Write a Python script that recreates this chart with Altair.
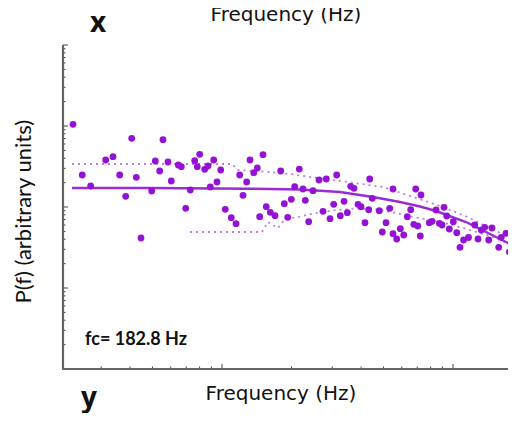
import altair as alt
import pandas as pd

# measured spectrum (Hz, arbitrary units)
freq = [2.265, 2.484, 2.701, 3.137, 3.375, 3.607, 3.830, 4.066, 4.256, 4.460,
        4.963, 5.144, 5.374, 5.554, 5.837, 6.032, 6.470, 6.666, 6.966, 7.293,
        7.619, 8.008, 7.818, 8.417, 8.700, 8.899, 9.206, 9.515, 9.872, 10.33,
        10.97, 11.50, 11.93, 12.33, 12.79, 13.22, 13.72, 14.22, 14.56, 15.05,
        15.55, 16.19, 16.96, 17.95, 18.61, 19.25, 19.95, 20.64, 21.61, 22.42,
        22.94, 23.73, 24.77, 26.30, 27.37, 28.28, 29.35, 30.45, 31.37, 32.52,
        33.75, 34.88, 36.07, 37.28, 38.80, 39.98, 41.59, 43.16, 43.59, 44.73,
        47.97, 49.42, 51.29, 53.21, 54.99, 54.99, 57.05, 59.14, 61.18, 63.42,
        65.60, 67.60, 68.95, 70.34, 72.18, 72.70, 78.97, 81.13, 84.43, 87.26,
        89.64, 91.42, 93.91, 96.38, 100.3, 103.8, 107.2, 111.1, 116.7, 124.2,
        128.3, 132.6, 137.2, 142.7, 147.5, 157.7, 161.8, 169.6, 175.3, 185.5]
power = [1.050, 0.2484, 0.1817, 0.3803, 0.4178, 0.2484, 0.1355, 0.7047, 0.2326, 0.04143,
         0.1576, 0.3697, 0.2783, 0.6774, 0.3594, 0.2094, 0.3300, 0.3145, 0.09638, 0.1622,
         0.3729, 0.4472, 0.3145, 0.2920, 0.3208, 0.1765, 0.3803, 0.2035, 0.2862, 0.09367,
         0.07379, 0.06220, 0.2484, 0.1395, 0.2035, 0.3803, 0.2652, 0.3030, 0.07591, 0.4422,
         0.1009, 0.08602, 0.07810, 0.2783, 0.1098, 0.07463, 0.1245, 0.1780, 0.2944, 0.1668,
         0.1210, 0.06584, 0.1589, 0.2154, 0.08849, 0.2216, 0.07173, 0.1080, 0.2484, 0.07810,
         0.1176, 0.08504, 0.1801, 0.1702, 0.1080, 0.1009, 0.06400, 0.09261, 0.2216, 0.1281,
         0.09000, 0.04913, 0.06400, 0.09638, 0.1668, 0.04681, 0.04026, 0.05397, 0.04511, 0.07591,
         0.09261, 0.06115, 0.1668, 0.05826, 0.04385, 0.1406, 0.06400, 0.06660, 0.09183, 0.06292,
         0.05995, 0.09915, 0.07743, 0.05351, 0.06584, 0.04816, 0.03181, 0.03914, 0.04202, 0.05995,
         0.04026, 0.05200, 0.05617, 0.03914, 0.05505, 0.03181, 0.04225, 0.04734, 0.02783, 0.03494]

# fitted curve
fit_f = [2.242, 4.879, 13.22, 21.76, 32.42, 45.05, 58.96, 71.97, 84.43, 113.8, 144.6, 187.4]
fit_p = [0.1716, 0.1716, 0.1682, 0.1644, 0.1532, 0.1329, 0.1153, 0.1014, 0.08925, 0.06527, 0.04642, 0.03208]

# confidence band (dotted)
up_f = [2.242, 11.05, 11.73, 15.05, 19.70, 25.78, 34.76, 49.77, 63.23, 85.23, 110.5, 144.6, 187.4]
up_p = [0.3396, 0.3396, 0.2862, 0.2744, 0.2555, 0.2280, 0.2035, 0.1765, 0.1406, 0.1059, 0.07966, 0.05505, 0.03803]
lo_f = [7.27, 14.90, 15.82, 17.48, 18.74, 21.76, 24.77, 31.15, 38.03, 46.42, 56.65, 67.12, 85.23, 110.5, 144.6, 187.4]
lo_p = [0.04913, 0.04913, 0.06527, 0.05505, 0.0711, 0.07591, 0.08313, 0.09183, 0.09583, 0.09314, 0.08432, 0.07525, 0.06717, 0.05505, 0.04385, 0.03208]

# tick positions
x_minor = [3, 4, 5, 6, 7, 8, 9, 20, 30, 40, 50, 60, 70, 80, 90]
x_major = [10, 100]
y_minor = [0.002, 0.003, 0.004, 0.005, 0.006, 0.007, 0.008, 0.009,
           0.02, 0.03, 0.04, 0.05, 0.06, 0.07, 0.08, 0.09,
           0.2, 0.3, 0.4, 0.5, 0.6, 0.7, 0.8, 0.9,
           2, 3, 4, 5, 6, 7, 8, 9]
y_major = [0.01, 0.1, 1, 10]

W, H = 445, 324
PURPLE = "#9412d4"
LINE = "#9a2cd6"
DOT = "#c27ae6"
AX = "#666666"

xs = alt.Scale(type="log", domain=[2.05, 173.0], nice=False)
ys = alt.Scale(type="log", domain=[0.001, 10], nice=False)

pts = pd.DataFrame({"f": freq, "p": power})
fit = pd.DataFrame({"f": fit_f, "p": fit_p})
up = pd.DataFrame({"f": up_f, "p": up_p})
lo = pd.DataFrame({"f": lo_f, "p": lo_p})
one = pd.DataFrame({"a": [0]})


def X():
    return alt.X("f:Q", scale=xs, axis=None)


def Y():
    return alt.Y("p:Q", scale=ys, axis=None)


upper = alt.Chart(up).mark_line(color=DOT, strokeWidth=1.8, strokeDash=[2, 4]).encode(x=X(), y=Y())
lower = alt.Chart(lo).mark_line(color=DOT, strokeWidth=1.8, strokeDash=[2, 4]).encode(x=X(), y=Y())
fitline = alt.Chart(fit).mark_line(color=LINE, strokeWidth=2.4).encode(x=X(), y=Y())
points = alt.Chart(pts).mark_circle(size=46, color=PURPLE, opacity=1).encode(x=X(), y=Y())

xt_min = alt.Chart(pd.DataFrame({"f": x_minor})).mark_rule(color="#444", strokeWidth=1).encode(
    x=X(), y=alt.value(H), y2=alt.value(H - 2.5))
xt_maj = alt.Chart(pd.DataFrame({"f": x_major})).mark_rule(color="#444", strokeWidth=1).encode(
    x=X(), y=alt.value(H), y2=alt.value(H - 5))
yt_min = alt.Chart(pd.DataFrame({"p": y_minor})).mark_rule(color="#444", strokeWidth=1).encode(
    y=Y(), x=alt.value(0), x2=alt.value(2.5))
yt_maj = alt.Chart(pd.DataFrame({"p": y_major})).mark_rule(color="#444", strokeWidth=1).encode(
    y=Y(), x=alt.value(0), x2=alt.value(5))

yaxis = alt.Chart(one).mark_rule(color=AX, strokeWidth=2.2).encode(
    x=alt.value(0), y=alt.value(0), y2=alt.value(H))
xaxis = alt.Chart(one).mark_rule(color=AX, strokeWidth=2.2).encode(
    x=alt.value(-1), x2=alt.value(W), y=alt.value(H))


def label(txt, x, y, size, font, weight="normal", angle=0):
    return alt.Chart(one).mark_text(
        text=txt, fontSize=size, font=font, fontWeight=weight, angle=angle,
        align="center", baseline="alphabetic", color="#111"
    ).encode(x=alt.value(x), y=alt.value(y))


t_top = label("Frequency (Hz)", 223, -24, 20, "DejaVu Sans")
t_bot = label("Frequency (Hz)", 218, 354.5, 20, "DejaVu Sans")
t_y = label("P(f) (arbitrary units)", -32, 166.7, 22, "Lato", angle=270)
t_fc = alt.Chart(one).mark_text(
    text="fc= 182.8 Hz", fontSize=18, font="Lato", fontWeight="bold",
    align="left", baseline="alphabetic", color="#111"
).encode(x=alt.value(22), y=alt.value(300))
t_x = label("x", 35, -13.5, 28, "Open Sans", weight="bold")
t_yl = label("y", 26, 362, 28, "Open Sans", weight="bold")

chart = alt.layer(
    upper, lower, fitline, points,
    xt_min, xt_maj, yt_min, yt_maj, yaxis, xaxis,
    t_top, t_bot, t_y, t_fc, t_x, t_yl,
).properties(
    width=W, height=H,
    padding={"left": 55, "top": 37, "right": 0, "bottom": 44},
    autosize=alt.AutoSizeParams(type="none"),
).configure_view(stroke=None)

chart.save("out.html", embed_options={"renderer": "svg", "actions": False})
